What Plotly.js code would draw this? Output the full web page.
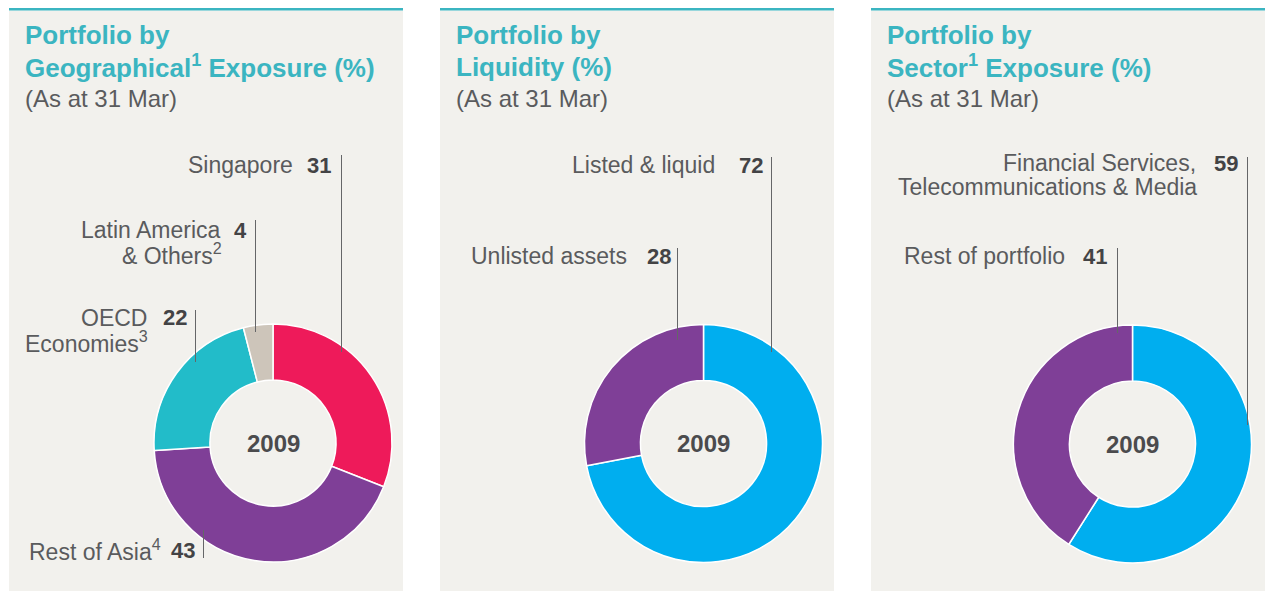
<!DOCTYPE html>
<html><head><meta charset="utf-8">
<script src="https://cdn.plot.ly/plotly-3.0.1.min.js"></script>
<style>html,body{margin:0;padding:0;background:#fff;}#chart{width:1267px;height:591px;}</style>
</head><body><div id="chart"></div>
<script>
// ---- data ----
const year = '2009';
const geoLabels = ['Singapore', 'Rest of Asia', 'OECD Economies', 'Latin America & Others'];
const geoValues = [31, 43, 22, 4];
const geoColors = ['#ee1a5a', '#7f3f97', '#22bcc9', '#cdc5ba'];
const liqLabels = ['Listed & liquid', 'Unlisted assets'];
const liqValues = [72, 28];
const liqColors = ['#00aeef', '#7f3f97'];
const secLabels = ['Financial Services, Telecommunications & Media', 'Rest of portfolio'];
const secValues = [59, 41];
const secColors = ['#00aeef', '#7f3f97'];
const titles = [
  ['Portfolio by', 'Geographical<sup>1</sup> Exposure (%)'],
  ['Portfolio by', 'Liquidity (%)'],
  ['Portfolio by', 'Sector<sup>1</sup> Exposure (%)']
];
const subtitle = '(As at 31 Mar)';

// ---- layout helpers ----
const W = 1267, H = 591;
const X = p => p / W;
const Y = p => 1 - p / H;
const FONT = 'Liberation Sans, Arial, sans-serif';
const BG = '#f2f1ed', TEAL = '#3bb5c1', LBL = '#5a5b5d', NUM = '#434345', LINE = '#656668';
const LS = 23, NS = 22;

function pie(values, labels, colors, cx, cy, r) {
  return {
    type: 'pie', values: values, labels: labels, sort: false, direction: 'clockwise', rotation: 0,
    hole: 0.53, textinfo: 'none', hoverinfo: 'label+value', showlegend: false,
    marker: {colors: colors, line: {color: '#ffffff', width: 1.5}},
    domain: {x: [X(cx - r), X(cx + r)], y: [Y(cy + r), Y(cy - r)]}
  };
}
function ann(x, y, text, size, color, xa, bold) {
  return {xref: 'paper', yref: 'paper', x: X(x), y: Y(y), text: bold ? '<b>' + text + '</b>' : text,
    showarrow: false, xanchor: xa, yanchor: 'middle', align: xa, borderpad: 0,
    font: {family: FONT, size: size, color: color}};
}
function vline(x, y0, y1) {
  return {type: 'line', xref: 'paper', yref: 'paper', x0: X(x + 0.5), x1: X(x + 0.5), y0: Y(y0), y1: Y(y1),
    line: {color: LINE, width: 1}, layer: 'above'};
}

const panels = [9, 440, 871];
const shapes = [];
const annotations = [];
panels.forEach((px, i) => {
  shapes.push({type: 'rect', xref: 'paper', yref: 'paper', x0: X(px), x1: X(px + 394), y0: Y(591), y1: Y(10.5),
    fillcolor: BG, line: {width: 0}, layer: 'below'});
  shapes.push({type: 'rect', xref: 'paper', yref: 'paper', x0: X(px), x1: X(px + 394), y0: Y(10.5), y1: Y(8),
    fillcolor: TEAL, line: {width: 0}, layer: 'below'});
  annotations.push(ann(px + 15, 34.5, titles[i][0], 26, TEAL, 'left', true));
  annotations.push(ann(px + 15, 67, titles[i][1], 26, TEAL, 'left', true));
  annotations.push(ann(px + 15, 99, subtitle, 24, LBL, 'left', false));
});

// centres
const c1 = [273, 443], c2 = [703.5, 443.5], c3 = [1132.5, 444];
const R = 119;
[c1, c2, c3].forEach(c => annotations.push(ann(c[0], c[1], year, 24, '#4b4b4d', 'center', true)));

// panel 1 labels
annotations.push(ann(294, 165, geoLabels[0], LS, LBL, 'right'));
annotations.push(ann(332, 165, String(geoValues[0]), NS, NUM, 'right', true));
annotations.push(ann(222, 230, 'Latin America', LS, LBL, 'right'));
annotations.push(ann(248, 230, String(geoValues[3]), NS, NUM, 'right', true));
annotations.push(ann(223, 254, '&amp; Others<sup>2</sup>', LS, LBL, 'right'));
annotations.push(ann(148, 318, 'OECD', LS, LBL, 'right'));
annotations.push(ann(188, 318, String(geoValues[2]), NS, NUM, 'right', true));
annotations.push(ann(149, 342, 'Economies<sup>3</sup>', LS, LBL, 'right'));
annotations.push(ann(162, 550, 'Rest of Asia<sup>4</sup>', LS, LBL, 'right'));
annotations.push(ann(196, 550, String(geoValues[1]), NS, NUM, 'right', true));
shapes.push(vline(341, 155, 352), vline(255, 220, 332), vline(195, 310, 362), vline(203, 530, 558));

// panel 2 labels
annotations.push(ann(716, 165, liqLabels[0], LS, LBL, 'right'));
annotations.push(ann(764, 165, String(liqValues[0]), NS, NUM, 'right', true));
annotations.push(ann(628, 256, liqLabels[1], LS, LBL, 'right'));
annotations.push(ann(672, 256, String(liqValues[1]), NS, NUM, 'right', true));
shapes.push(vline(771, 157, 352), vline(677, 248, 340));

// panel 3 labels
annotations.push(ann(1197, 163, 'Financial Services,', LS, LBL, 'right'));
annotations.push(ann(1239, 163, String(secValues[0]), NS, NUM, 'right', true));
annotations.push(ann(1198, 187, 'Telecommunications &amp; Media', LS, LBL, 'right'));
annotations.push(ann(1066, 256, secLabels[1], LS, LBL, 'right'));
annotations.push(ann(1108, 256, String(secValues[1]), NS, NUM, 'right', true));
shapes.push(vline(1247, 157, 425), vline(1117, 248, 333));

const data = [
  pie(geoValues, geoLabels, geoColors, c1[0], c1[1], R),
  pie(liqValues, liqLabels, liqColors, c2[0], c2[1], R),
  pie(secValues, secLabels, secColors, c3[0], c3[1], R)
];
const layout = {
  width: W, height: H, margin: {l: 0, r: 0, t: 0, b: 0},
  paper_bgcolor: '#ffffff', plot_bgcolor: '#ffffff',
  shapes: shapes, annotations: annotations, showlegend: false
};
Plotly.newPlot('chart', data, layout, {staticPlot: true, displayModeBar: false});
</script></body></html>
